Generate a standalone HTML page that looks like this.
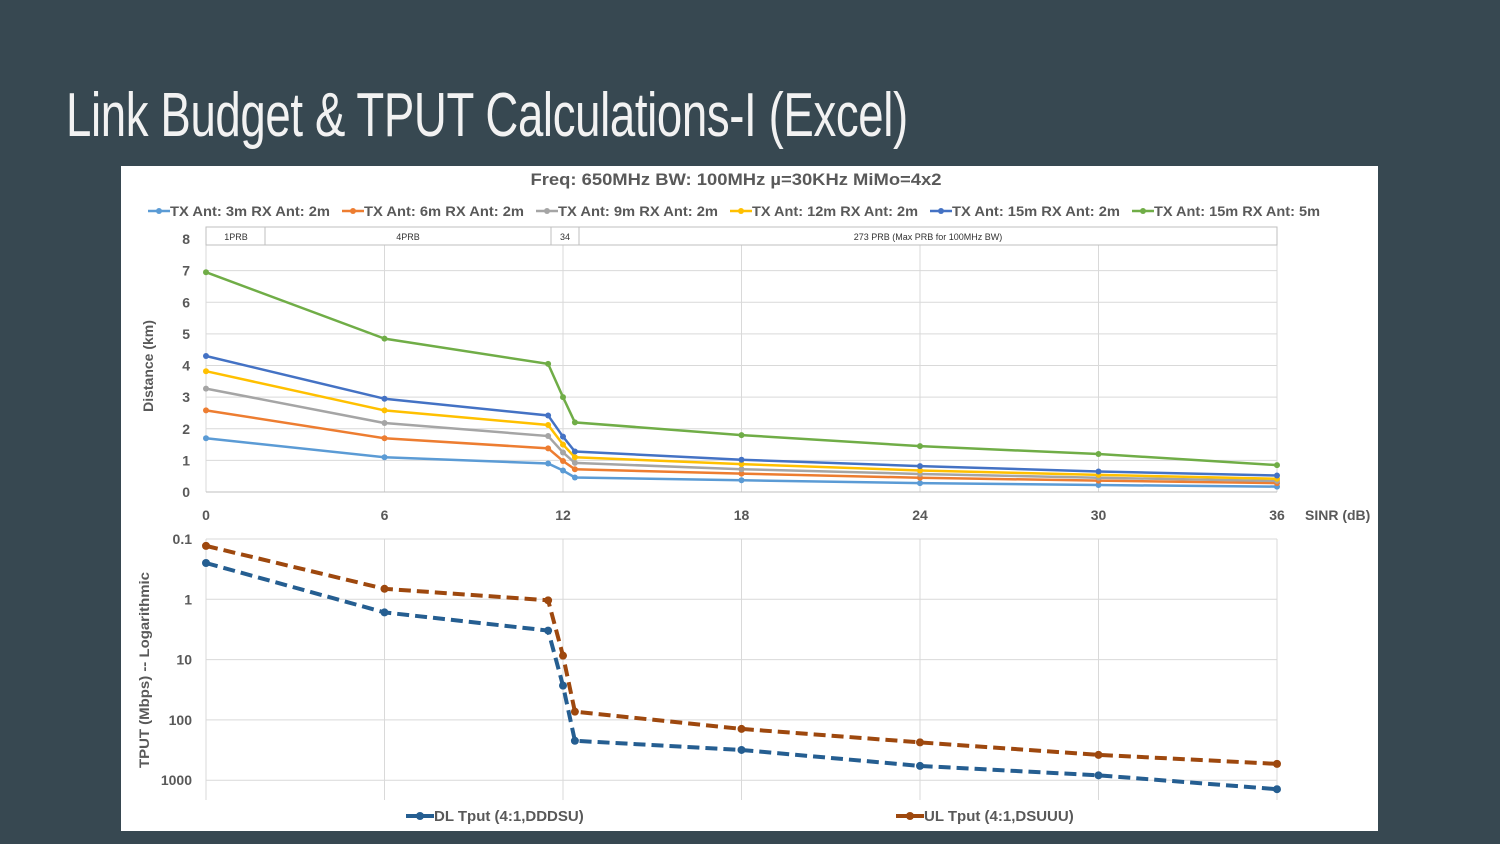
<!DOCTYPE html>
<html><head><meta charset="utf-8"><style>
html,body{margin:0;padding:0;}
body{width:1500px;height:844px;background:#374851;overflow:hidden;position:relative;font-family:"Liberation Sans",sans-serif;}
#title{position:absolute;left:66px;top:80px;color:#f2f2f2;font-size:62px;white-space:nowrap;transform:scaleX(0.735);transform-origin:left top;letter-spacing:-0.5px;}
#panel{position:absolute;left:121px;top:166px;width:1257px;height:665px;background:#fff;}
svg{position:absolute;left:0;top:0;}
</style></head><body>
<div id="title">Link Budget &amp; TPUT Calculations-I (Excel)</div>
<div id="panel"></div>
<svg id="chart" width="1500" height="844"></svg>
<script>
const sinr = [0, 6, 11.5, 12, 12.4, 18, 24, 30, 36];
const xTicks = [0, 6, 12, 18, 24, 30, 36];
const yTicks = [0, 1, 2, 3, 4, 5, 6, 7, 8];
const seriesNames = ["TX Ant: 3m RX Ant: 2m","TX Ant: 6m RX Ant: 2m","TX Ant: 9m RX Ant: 2m","TX Ant: 12m RX Ant: 2m","TX Ant: 15m RX Ant: 2m","TX Ant: 15m RX Ant: 5m"];
const seriesColors = ["#5b9bd5","#ed7d31","#a5a5a5","#ffc000","#4472c4","#70ad47"];
const d3m = [1.7, 1.1, 0.9, 0.68, 0.46, 0.37, 0.28, 0.22, 0.17];
const d6m = [2.58, 1.7, 1.38, 0.98, 0.72, 0.58, 0.45, 0.36, 0.28];
const d9m = [3.27, 2.18, 1.77, 1.25, 0.92, 0.72, 0.57, 0.45, 0.35];
const d12m = [3.82, 2.58, 2.12, 1.5, 1.1, 0.88, 0.68, 0.54, 0.42];
const d15m = [4.3, 2.95, 2.42, 1.75, 1.28, 1.02, 0.82, 0.65, 0.52];
const d15m5 = [6.95, 4.85, 4.05, 3.0, 2.2, 1.8, 1.45, 1.2, 0.85];
const dlTput = [0.25, 1.65, 3.3, 27, 222, 315, 580, 830, 1410];
const ulTput = [0.13, 0.67, 1.04, 8.6, 73, 141, 236, 380, 536];
const logTicks = [0.1, 1, 10, 100, 1000];
const logTickLabels = ["0.1","1","10","100","1000"];

const svg = document.getElementById('chart');
const NS = 'http://www.w3.org/2000/svg';
function mk(tag, attrs, parent){const e=document.createElementNS(NS,tag);for(const k in attrs)e.setAttribute(k,attrs[k]);(parent||svg).appendChild(e);return e;}
const X = v => 206 + v*(1277-206)/36;
const Y1 = v => 492 - v*(492-239)/8;
const Y2 = v => 539 + (Math.log10(v)+1)*60.3;
const F = '"Liberation Sans",sans-serif';

let t = mk('text',{x:736,y:185,'text-anchor':'middle','font-size':17,'font-weight':'bold',fill:'#595959','font-family':F,textLength:411,lengthAdjust:'spacingAndGlyphs'});
t.textContent='Freq: 650MHz BW: 100MHz \u00b5=30KHz MiMo=4x2';



let lx=148;
const legW=[194,194,194,200,202,200];
seriesNames.forEach((n,i)=>{
  const g=mk('g',{});
  
  
  mk('line',{x1:lx,y1:211,x2:lx+22,y2:211,stroke:seriesColors[i],'stroke-width':2.5},g);
  mk('circle',{cx:lx+11,cy:211,r:3,fill:seriesColors[i]},g);
  const tt=mk('text',{x:lx+22,y:216,'font-size':14,'font-weight':'bold',fill:'#595959','font-family':F,textLength:legW[i]-34,lengthAdjust:'spacingAndGlyphs'},g);
  tt.textContent=n;
  lx+=legW[i];
});

yTicks.forEach(v=>{
  const l=mk('line',{x1:206,y1:Y1(v),x2:1277,y2:Y1(v),stroke:'#d9d9d9','stroke-width':1});
  
  
  const tl=mk('text',{x:190,y:Y1(v)+5,'text-anchor':'end','font-size':14,'font-weight':'bold',fill:'#595959','font-family':F});
  tl.textContent=v;
  
  
});
xTicks.forEach(v=>{
  const l=mk('line',{x1:X(v),y1:245,x2:X(v),y2:492,stroke:'#d9d9d9','stroke-width':1});
  
  
  const tl=mk('text',{x:X(v),y:520,'text-anchor':'middle','font-size':14,'font-weight':'bold',fill:'#595959','font-family':F});
  tl.textContent=v;
  
  
  const l2=mk('line',{x1:X(v),y1:539,x2:X(v),y2:800,stroke:'#d9d9d9','stroke-width':1});
  
  
});
mk('line',{x1:206,y1:492,x2:1277,y2:492,stroke:'#bfbfbf','stroke-width':1});
let sx=mk('text',{x:1305,y:520,'font-size':14,'font-weight':'bold',fill:'#595959','font-family':F});
sx.textContent='SINR (dB)';


let yt=mk('text',{x:0,y:0,'font-size':14,'font-weight':'bold',fill:'#595959','font-family':F,'text-anchor':'middle',transform:'translate(153,366) rotate(-90)'});
yt.textContent='Distance (km)';



const pb=mk('g',{});


mk('rect',{x:206,y:227,width:1071,height:18,fill:'#fff',stroke:'#bfbfbf'},pb);
[265,551,579].forEach(x=>mk('line',{x1:x,y1:227,x2:x,y2:245,stroke:'#bfbfbf'},pb));
[[236,'1PRB'],[408,'4PRB'],[565,'34'],[928,'273 PRB (Max PRB for 100MHz BW)']].forEach(([x,s])=>{
  const e=mk('text',{x:x,y:240,'text-anchor':'middle','font-size':9,fill:'#333','font-family':F},pb);e.textContent=s;});

[d3m,d6m,d9m,d12m,d15m,d15m5].forEach((arr,i)=>{
  const g=mk('g',{});
  
  
  const pts=arr.map((v,j)=>X(sinr[j])+','+Y1(v)).join(' ');
  mk('polyline',{points:pts,fill:'none',stroke:seriesColors[i],'stroke-width':2.5},g);
  arr.forEach((v,j)=>{const c=mk('circle',{cx:X(sinr[j]),cy:Y1(v),r:3,fill:seriesColors[i]},g);
    
    });
});

logTicks.forEach((v,i)=>{
  const l=mk('line',{x1:206,y1:Y2(v),x2:1277,y2:Y2(v),stroke:'#d9d9d9','stroke-width':1});
  
  
  const tl=mk('text',{x:192,y:Y2(v)+5,'text-anchor':'end','font-size':14,'font-weight':'bold',fill:'#595959','font-family':F});
  tl.textContent=logTickLabels[i];
  
  
});
let yt2=mk('text',{x:0,y:0,'font-size':14,'font-weight':'bold',fill:'#595959','font-family':F,'text-anchor':'middle',transform:'translate(149,670) rotate(-90)',textLength:196,lengthAdjust:'spacingAndGlyphs'});
yt2.textContent='TPUT (Mbps) -- Logarithmic';



const tColors=['#255e91','#9e480e'];
[dlTput,ulTput].forEach((arr,i)=>{
  const g=mk('g',{});
  
  
  const pts=arr.map((v,j)=>X(sinr[j])+','+Y2(v)).join(' ');
  mk('polyline',{points:pts,fill:'none',stroke:tColors[i],'stroke-width':4,'stroke-dasharray':'12,6'},g);
  arr.forEach((v,j)=>{const c=mk('circle',{cx:X(sinr[j]),cy:Y2(v),r:4,fill:tColors[i]},g);
    
    });
});
[[406,'DL Tput (4:1,DDDSU)'],[896,'UL Tput (4:1,DSUUU)']].forEach(([x,s],i)=>{
  const g=mk('g',{});
  
  
  mk('line',{x1:x,y1:816,x2:x+28,y2:816,stroke:tColors[i],'stroke-width':4},g);
  mk('circle',{cx:x+14,cy:816,r:4,fill:tColors[i]},g);
  const e=mk('text',{x:x+28,y:821,'font-size':15,'font-weight':'bold',fill:'#595959','font-family':F},g);e.textContent=s;
});
</script>
</body></html>
